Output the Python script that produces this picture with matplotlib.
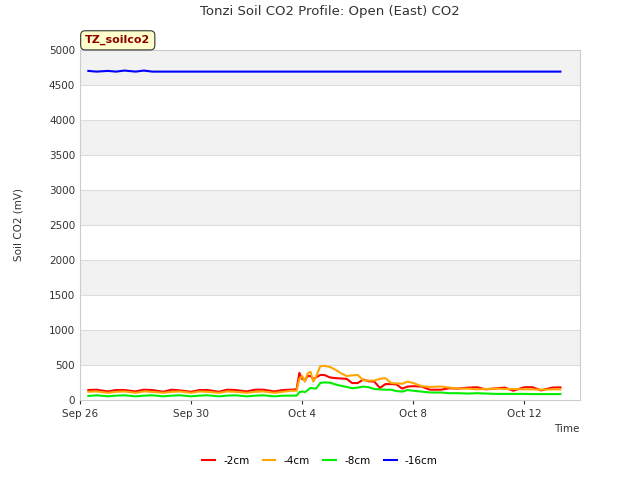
import numpy as np
import matplotlib
matplotlib.use("Agg")
import matplotlib.pyplot as plt
import matplotlib.dates as mdates
from datetime import datetime, timedelta

start = datetime(2016, 9, 26)

# days since Sep 26
days = [0.3, 0.6, 1.0, 1.3, 1.6, 2.0, 2.3, 2.6, 3.0, 3.3, 3.6, 4.0, 4.3, 4.6, 5.0, 5.3,
        5.6, 6.0, 6.3, 6.6, 7.0, 7.3, 7.6,
        7.8, 7.9, 8.0, 8.1, 8.2, 8.3, 8.4, 8.5, 8.65, 8.8,
        9.0, 9.2, 9.4, 9.6, 9.8, 10.0, 10.2, 10.4, 10.6, 10.8, 11.0, 11.2, 11.4, 11.6, 11.8, 12.0,
        12.3, 12.6, 13.0, 13.3, 13.6, 14.0, 14.3, 14.6, 15.0, 15.3, 15.6, 16.0, 16.3, 16.6, 17.0, 17.3]

co2_2cm = [140, 145, 120, 140, 140, 120, 145, 140, 115, 145, 135, 115, 140, 140, 115, 145,
           140, 120, 145, 145, 120, 140, 145,
           150, 385, 300, 280, 340, 340, 300, 320, 355, 355,
           320, 310, 305, 300, 240, 240, 290, 265, 260, 170, 225, 225, 220, 160, 190, 195,
           190, 145, 145, 165, 160, 175, 180, 150, 165, 175, 130, 180, 180, 135, 175, 178]

co2_4cm = [115, 120, 100, 115, 120, 100, 120, 115, 100, 115, 120, 100, 120, 115, 100, 120,
           115, 100, 115, 120, 100, 115, 130,
           130, 300, 340, 260, 380, 400, 260, 330, 480, 485,
           470, 430, 380, 340, 350, 355, 280, 275, 275, 300, 310, 240, 235, 230, 260, 240,
           195, 185, 190, 175, 160, 160, 150, 155, 160, 155, 155, 150, 150, 145, 150, 150]

co2_8cm = [55, 65, 50, 60, 65, 50, 60, 65, 50, 60, 65, 50, 60, 65, 50, 60,
           65, 50, 60, 65, 50, 60, 60,
           60, 110, 120, 110, 140, 170, 165, 160, 240, 250,
           245, 220, 200, 185, 165, 175, 190, 180, 155, 150, 145, 145, 125, 118, 140, 130,
           118, 105, 105, 95, 95, 90, 95, 90, 85, 85, 85, 85, 82, 82, 82, 82]

co2_16cm = [4700, 4690, 4700, 4690, 4705, 4690, 4705, 4690, 4690, 4690, 4690, 4690, 4690, 4690, 4690, 4690,
            4690, 4690, 4690, 4690, 4690, 4690, 4690,
            4690, 4690, 4690, 4690, 4690, 4690, 4690, 4690, 4690, 4690,
            4690, 4690, 4690, 4690, 4690, 4690, 4690, 4690, 4690, 4690, 4690, 4690, 4690, 4690, 4690, 4690,
            4690, 4690, 4690, 4690, 4690, 4690, 4690, 4690, 4690, 4690, 4690, 4690, 4690, 4690, 4690, 4690]

labels = ['-2cm', '-4cm', '-8cm', '-16cm']
colors = ['#ff0000', '#ffa500', '#00ee00', '#0000ff']

times = [start + timedelta(days=d) for d in days]

fig = plt.figure(figsize=(6.4, 4.8), dpi=100)
ax = fig.add_axes([0.125, 0.167, 0.781, 0.729])

# alternating bands
for lo in range(0, 5000, 1000):
    ax.axhspan(lo + 500, lo + 1000, color='#f2f2f2', zorder=0, lw=0)
for y in range(500, 5001, 500):
    ax.axhline(y, color='#dddddd', lw=0.8, zorder=1)

for vals, lab, col in zip([co2_2cm, co2_4cm, co2_8cm, co2_16cm], labels, colors):
    ax.plot(times, vals, color=col, lw=1.5, label=lab, zorder=3)

ax.set_ylim(0, 5000)
ax.set_xlim(start, start + timedelta(days=18))
ax.set_yticks(range(0, 5001, 500))
ax.set_xticks([start + timedelta(days=d) for d in [0, 4, 8, 12, 16]])
ax.xaxis.set_major_formatter(mdates.DateFormatter('%b %-d'))
ax.tick_params(labelsize=7.5, colors='#333333', length=3)
ax.tick_params(axis='y', length=0)
for s in ax.spines.values():
    s.set_color('#cccccc')

ax.set_title('Tonzi Soil CO2 Profile: Open (East) CO2', fontsize=9.5, color='#333333', pad=25)
ax.set_ylabel('Soil CO2 (mV)', fontsize=7.5, color='#333333', labelpad=18)
ax.set_xlabel('Time', fontsize=7.5, color='#333333', loc='right')

fig.text(0.133, 0.91, 'TZ_soilco2', fontsize=8, fontweight='bold', color='#8b0000',
         bbox=dict(boxstyle='round,pad=0.4', facecolor='#ffffcc', edgecolor='#333333', lw=0.8))

handles, labs = ax.get_legend_handles_labels()
fig.legend(handles, labs, loc='center', bbox_to_anchor=(0.5, 0.04), ncol=4, frameon=False,
           fontsize=7.5, handlelength=1.2, columnspacing=1.3)

fig.savefig('out.png', dpi=100)
